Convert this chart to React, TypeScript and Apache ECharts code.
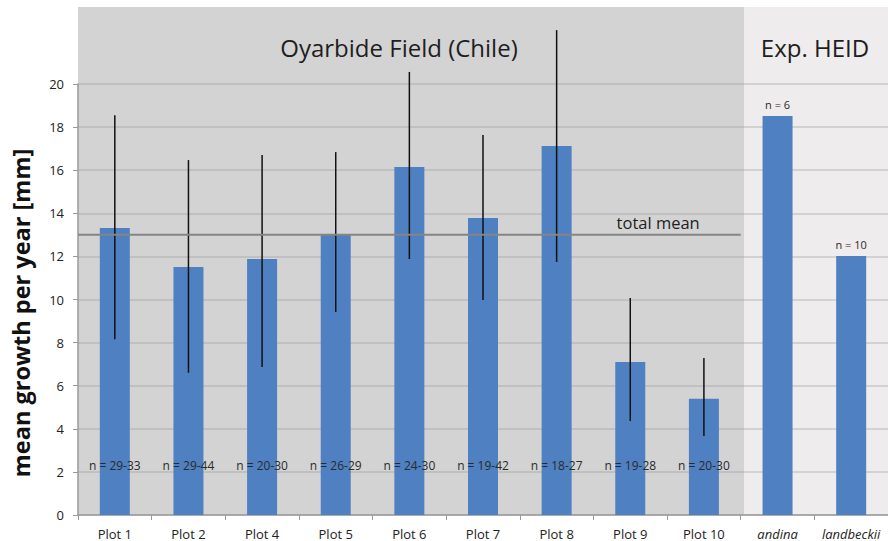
import React, { useEffect, useRef } from "react";
import * as echarts from "echarts";

// Mean annual growth per plot (mm) with error-bar ranges and sample sizes
const categories = ["Plot 1", "Plot 2", "Plot 4", "Plot 5", "Plot 6", "Plot 7", "Plot 8", "Plot 9", "Plot 10", "andina", "landbeckii"];
const means = [13.32, 11.51, 11.88, 13.04, 16.15, 13.78, 17.12, 7.1, 5.4, 18.52, 12.02];
const errLow = [8.15, 6.6, 6.87, 9.42, 11.88, 9.98, 11.74, 4.36, 3.67, null, null];
const errHigh = [18.55, 16.47, 16.7, 16.84, 20.56, 17.63, 22.5, 10.07, 7.29, null, null];
const sampleSizes = ["n = 29-33", "n = 29-44", "n = 20-30", "n = 26-29", "n = 24-30", "n = 19-42", "n = 18-27", "n = 19-28", "n = 20-30", "n = 6", "n = 10"];
const fieldCount = 9; // first nine categories belong to the field site
const totalMean = 13;
const yMin = 0;
const yMax = 20;
const yInterval = 2;

const FONT = "'Open Sans', 'Noto Sans', sans-serif";
const W = 888;
const H = 541;
const GRID_LEFT = 78;
const GRID_TOP = 84;
const GRID_BOTTOM = 26;
const GRID_WIDTH = 814;
const BG_TOP = 7;

export default function App() {
  const ref = useRef<HTMLDivElement>(null);

  useEffect(() => {
    if (!ref.current) return;
    const chart = echarts.init(ref.current, undefined, { renderer: "svg" });
    const band = GRID_WIDTH / categories.length;
    const splitX = GRID_LEFT + band * fieldCount;
    const axisY = H - GRID_BOTTOM;

    const option: any = {
      animation: false,
      backgroundColor: "#ffffff",
      grid: { left: GRID_LEFT, top: GRID_TOP, width: GRID_WIDTH, bottom: GRID_BOTTOM, containLabel: false },
      graphic: [
        {
          type: "rect",
          z: -10,
          silent: true,
          shape: { x: GRID_LEFT, y: BG_TOP, width: splitX - GRID_LEFT, height: axisY - BG_TOP },
          style: { fill: "#d3d3d3" },
        },
        {
          type: "rect",
          z: -10,
          silent: true,
          shape: { x: splitX, y: BG_TOP, width: GRID_LEFT + GRID_WIDTH - splitX, height: axisY - BG_TOP },
          style: { fill: "#eeecec" },
        },
        {
          type: "text",
          x: 399,
          y: 47,
          style: { text: "Oyarbide Field (Chile)", fill: "#1e1e1e", font: `24px ${FONT}`, textAlign: "center", textVerticalAlign: "middle" },
        },
        {
          type: "text",
          x: 815,
          y: 47,
          style: { text: "Exp. HEID", fill: "#1e1e1e", font: `24px ${FONT}`, textAlign: "center", textVerticalAlign: "middle" },
        },
        {
          type: "text",
          x: 21,
          y: 313,
          rotation: Math.PI / 2,
          style: {
            text: "mean growth per year [mm]",
            fill: "#111",
            font: `bold 23.5px ${FONT}`,
            textAlign: "center",
            textVerticalAlign: "middle",
          },
        },
      ],
      xAxis: {
        type: "category",
        data: categories,
        axisLine: { lineStyle: { color: "#9a9a9a", width: 1.5 } },
        axisTick: { show: true, length: 5, lineStyle: { color: "#9a9a9a" } },
        axisLabel: {
          color: "#222",
          fontFamily: FONT,
          fontSize: 13,
          margin: 12,
          interval: 0,
          formatter: (v: string, i: number) => (i >= fieldCount ? `{it|${v}}` : v),
          rich: { it: { fontStyle: "italic", fontFamily: FONT, fontSize: 13, color: "#222" } },
        },
      },
      yAxis: {
        type: "value",
        min: yMin,
        max: yMax,
        interval: yInterval,
        axisLine: { show: true, lineStyle: { color: "#9a9a9a", width: 1.5 } },
        axisTick: { show: true, length: 5, lineStyle: { color: "#9a9a9a" } },
        axisLabel: { color: "#222", fontFamily: FONT, fontSize: 13, margin: 14 },
        splitLine: { show: true, lineStyle: { color: "rgba(150,150,150,0.3)", width: 2 } },
      },
      series: [
        {
          type: "bar",
          data: means.map((v, i) => ({
            value: v,
            label:
              i < fieldCount
                ? { show: true, position: "insideBottom", distance: 44, formatter: sampleSizes[i], color: "#2a2a2a", fontSize: 12, fontFamily: FONT }
                : { show: true, position: "top", distance: 6, formatter: sampleSizes[i], color: "#2a2a2a", fontSize: 11, fontFamily: FONT },
          })),
          barWidth: 30,
          itemStyle: { color: "#4f80c1" },
          z: 2,
        },
        {
          // error bars (no caps)
          type: "custom",
          z: 3,
          clip: false,
          data: categories.map((_, i) => [i, errLow[i], errHigh[i]]),
          renderItem: (params: any, api: any) => {
            const lo = api.value(1);
            const hi = api.value(2);
            if (lo == null || hi == null || isNaN(lo) || isNaN(hi)) return null;
            const p0 = api.coord([api.value(0), lo]);
            const p1 = api.coord([api.value(0), hi]);
            return {
              type: "line",
              shape: { x1: p0[0], y1: p0[1], x2: p1[0], y2: p1[1] },
              style: { stroke: "#111", lineWidth: 1.5 },
            };
          },
        },
        {
          // total mean reference line across the field plots
          type: "custom",
          z: 4,
          clip: false,
          data: [[0, totalMean]],
          renderItem: (params: any, api: any) => {
            const first = api.coord([0, api.value(1)]);
            const last = api.coord([fieldCount - 1, api.value(1)]);
            const bw = api.size([1, 0])[0];
            const x0 = first[0] - bw / 2;
            const x1 = last[0] + bw / 2;
            return {
              type: "group",
              children: [
                {
                  type: "line",
                  shape: { x1: x0, y1: first[1], x2: x1, y2: first[1] },
                  style: { stroke: "#858585", lineWidth: 2 },
                },
                {
                  type: "text",
                  x: x1 - 41,
                  y: first[1] - 4,
                  style: { text: "total mean", fill: "#1e1e1e", font: `16.5px ${FONT}`, textAlign: "right", textVerticalAlign: "bottom" },
                },
              ],
            };
          },
        },
      ],
    };

    chart.setOption(option);
    return () => chart.dispose();
  }, []);

  return <div ref={ref} style={{ position: "fixed", left: 0, top: 0, width: W, height: H }} />;
}
